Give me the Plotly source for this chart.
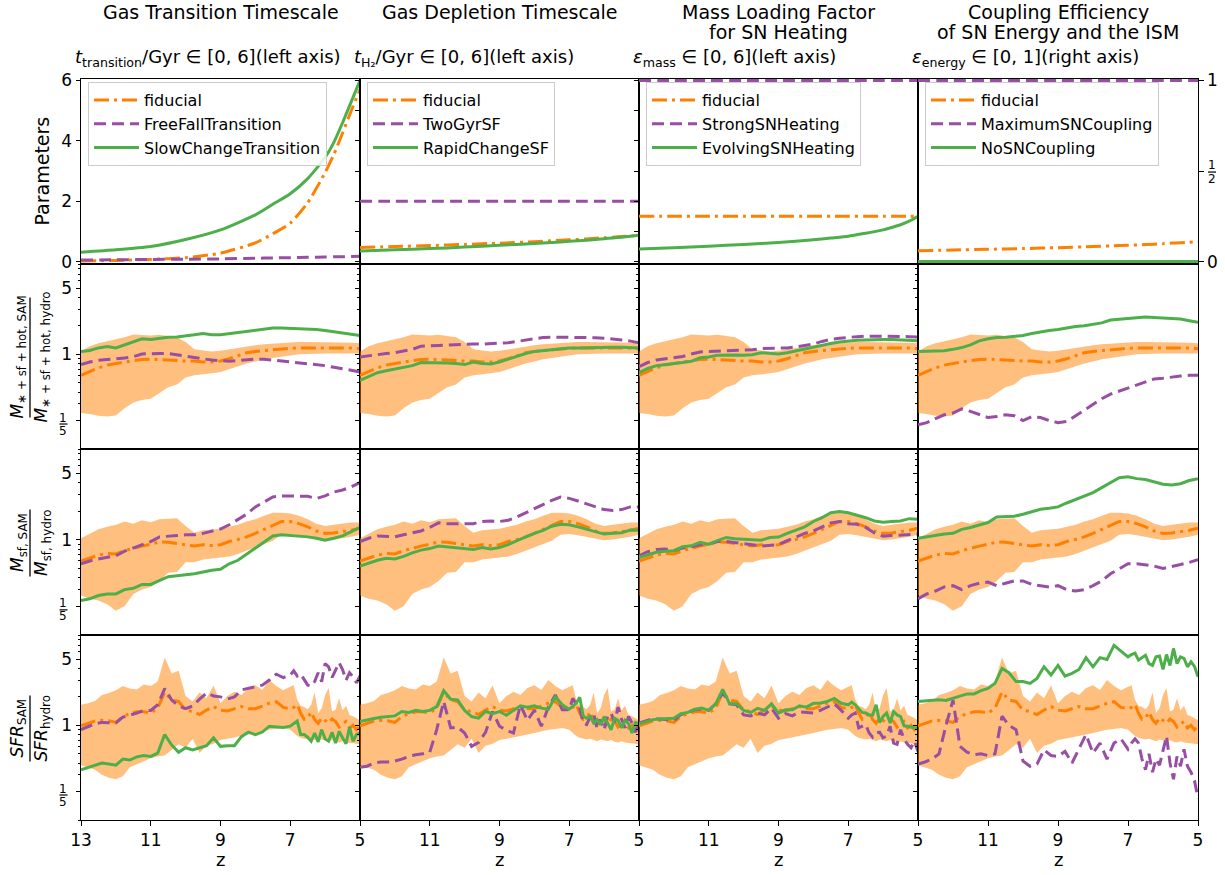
import math
import plotly.graph_objects as go

W, H = 1225, 875
COL_EDGES = [81, 360, 639, 918, 1198]
ROW_EDGES = [79, 264, 449, 635, 820]
LOG_RANGE = [-1.0, 0.955]
PARAM_RANGE = [-0.08, 6.05]

ORANGE = "#ff7f00"
PURPLE = "#984ea3"
GREEN = "#4daf4a"
BAND = "rgba(255,127,0,0.5)"
FID_DASH = "15px,5px,3px,5px"
ALT_DASH = "12px,6px"
LW = 3
FONT = "DejaVu Sans"
TICK_SIZE = 17

# ---------------- redshift grids ----------------
Z_PARAM = [13.0, 12.0, 11.0, 10.0, 9.0, 8.0, 7.5, 7.0, 6.5, 6.0, 5.75, 5.5, 5.25, 5.0]
Z_MASS = [13.0, 12.75, 12.5, 12.25, 12.0, 11.75, 11.5, 11.25, 11.0, 10.75, 10.5, 10.25,
          10.0, 9.75, 9.5, 9.25, 9.0, 8.75, 8.5, 8.25, 8.0, 7.75, 7.5, 7.25, 7.0, 6.75,
          6.5, 6.25, 6.0, 5.75, 5.5, 5.25, 5.0]
Z_SFR = [13.0, 12.8, 12.6, 12.4, 12.2, 12.0, 11.8, 11.6, 11.4, 11.2, 11.0, 10.8, 10.6,
         10.4, 10.2, 10.0, 9.8, 9.6, 9.4, 9.2, 9.0, 8.8, 8.6, 8.4, 8.2, 8.0, 7.8, 7.6,
         7.4, 7.2, 7.0, 6.9, 6.8, 6.7, 6.6, 6.5, 6.4, 6.3, 6.2, 6.1, 6.0, 5.9, 5.8, 5.7,
         5.6, 5.5, 5.4, 5.3, 5.2, 5.1, 5.0]

# ---------------- model parameters (top row) ----------------
T_TRANS_FIDUCIAL = [0.02, 0.04, 0.07, 0.13, 0.28, 0.62, 0.92, 1.27, 1.95, 2.95, 3.55, 4.26, 5.0, 5.7]
T_TRANS_FREEFALL = [0.05, 0.06, 0.07, 0.08, 0.09, 0.11, 0.12, 0.13, 0.14, 0.15, 0.16, 0.16, 0.17, 0.18]
T_TRANS_SLOW = [0.31, 0.39, 0.50, 0.73, 1.05, 1.55, 1.90, 2.25, 2.75, 3.45, 3.95, 4.6, 5.3, 6.0]

T_H2_FIDUCIAL = [0.47, 0.50, 0.53, 0.57, 0.61, 0.66, 0.69, 0.72, 0.75, 0.79, 0.81, 0.83, 0.85, 0.87]
T_H2_TWOGYR = [2.0, 2.0, 2.0, 2.0, 2.0, 2.0, 2.0, 2.0, 2.0, 2.0, 2.0, 2.0, 2.0, 2.0]
T_H2_RAPID = [0.35, 0.39, 0.43, 0.48, 0.54, 0.60, 0.635, 0.67, 0.71, 0.76, 0.785, 0.81, 0.84, 0.87]

EPS_MASS_FIDUCIAL = [1.5, 1.5, 1.5, 1.5, 1.5, 1.5, 1.5, 1.5, 1.5, 1.5, 1.5, 1.5, 1.5, 1.5]
EPS_MASS_STRONG = [6.0, 6.0, 6.0, 6.0, 6.0, 6.0, 6.0, 6.0, 6.0, 6.0, 6.0, 6.0, 6.0, 6.0]
EPS_MASS_EVOLVING = [0.42, 0.46, 0.51, 0.57, 0.63, 0.72, 0.78, 0.84, 0.94, 1.05, 1.13, 1.22, 1.34, 1.5]

EPS_ENERGY_FIDUCIAL = [0.060, 0.064, 0.068, 0.072, 0.077, 0.083, 0.087, 0.090, 0.094, 0.099,
                       0.102, 0.104, 0.107, 0.110]
EPS_ENERGY_MAX = [1.0, 1.0, 1.0, 1.0, 1.0, 1.0, 1.0, 1.0, 1.0, 1.0, 1.0, 1.0, 1.0, 1.0]
EPS_ENERGY_NONE = [0.0, 0.0, 0.0, 0.0, 0.0, 0.0, 0.0, 0.0, 0.0, 0.0, 0.0, 0.0, 0.0, 0.0]

# ---------------- M_{*+sf+hot} ratio ----------------
MTOT_FID = [0.60, 0.66, 0.72, 0.77, 0.80, 0.83, 0.86, 0.88, 0.89, 0.88, 0.865, 0.86, 0.85, 0.85,
            0.83, 0.83, 0.85, 0.90, 0.96, 1.04, 1.075, 1.10, 1.12, 1.14, 1.16, 1.17, 1.17, 1.17,
            1.18, 1.18, 1.17, 1.17, 1.15]
MTOT_HI = [1.075, 1.22, 1.31, 1.37, 1.44, 1.52, 1.62, 1.61, 1.58, 1.61, 1.56, 1.52, 1.35, 1.13,
           1.10, 1.075, 1.09, 1.13, 1.17, 1.21, 1.25, 1.28, 1.30, 1.33, 1.35, 1.35, 1.35, 1.35,
           1.35, 1.35, 1.34, 1.33, 1.31]
MTOT_LO = [0.24, 0.235, 0.224, 0.22, 0.226, 0.27, 0.31, 0.33, 0.34, 0.39, 0.45, 0.48, 0.57, 0.60,
           0.61, 0.63, 0.65, 0.70, 0.74, 0.80, 0.84, 0.89, 0.915, 0.945, 0.976, 1.0, 1.01, 1.02,
           1.02, 1.02, 1.02, 1.02, 1.02]
MTOT_FREEFALL = [0.78, 0.83, 0.865, 0.89, 0.90, 0.915, 0.945, 1.01, 1.02, 1.02, 1.02, 0.99, 0.945,
                 0.92, 0.90, 0.87, 0.86, 0.845, 0.86, 0.88, 0.89, 0.89, 0.87, 0.85, 0.84, 0.82,
                 0.80, 0.78, 0.76, 0.73, 0.71, 0.68, 0.65]
MTOT_SLOW = [1.075, 1.10, 1.17, 1.21, 1.17, 1.26, 1.35, 1.46, 1.44, 1.48, 1.52, 1.53, 1.56, 1.61,
             1.66, 1.61, 1.61, 1.66, 1.71, 1.76, 1.81, 1.86, 1.90, 1.90, 1.89, 1.87, 1.86, 1.83,
             1.79, 1.74, 1.70, 1.65, 1.58]
MTOT_TWOGYR = [0.94, 0.97, 0.99, 1.02, 1.04, 1.075, 1.13, 1.22, 1.24, 1.24, 1.25, 1.27, 1.29, 1.29,
               1.28, 1.29, 1.30, 1.33, 1.37, 1.42, 1.46, 1.51, 1.52, 1.52, 1.52, 1.51, 1.51, 1.50,
               1.48, 1.46, 1.42, 1.38, 1.33]
MTOT_RAPID = [0.53, 0.58, 0.64, 0.67, 0.70, 0.72, 0.76, 0.82, 0.82, 0.81, 0.81, 0.80, 0.78, 0.83,
              0.80, 0.79, 0.83, 0.89, 0.96, 1.02, 1.075, 1.10, 1.13, 1.15, 1.17, 1.17, 1.18, 1.19,
              1.19, 1.19, 1.19, 1.18, 1.17]
MTOT_STRONG = [0.74, 0.82, 0.87, 0.90, 0.92, 0.95, 1.01, 1.06, 1.075, 1.08, 1.09, 1.10, 1.10, 1.12,
               1.15, 1.15, 1.16, 1.17, 1.20, 1.24, 1.29, 1.37, 1.44, 1.48, 1.52, 1.54, 1.56, 1.56,
               1.56, 1.56, 1.56, 1.54, 1.53]
MTOT_EVOLVING = [0.64, 0.71, 0.76, 0.785, 0.80, 0.82, 0.845, 0.92, 0.94, 0.98, 0.99, 0.985, 0.98,
                 0.99, 1.04, 1.02, 1.01, 1.04, 1.09, 1.13, 1.18, 1.24, 1.30, 1.35, 1.39, 1.41,
                 1.42, 1.44, 1.44, 1.44, 1.42, 1.41, 1.39]
MTOT_MAXCOUP = [0.18, 0.19, 0.21, 0.23, 0.24, 0.265, 0.25, 0.23, 0.215, 0.22, 0.23, 0.225, 0.20,
                0.22, 0.215, 0.20, 0.19, 0.195, 0.225, 0.26, 0.30, 0.34, 0.38, 0.41, 0.44, 0.48,
                0.51, 0.55, 0.56, 0.58, 0.59, 0.60, 0.60]
MTOT_NOCOUP = [1.075, 1.075, 1.075, 1.09, 1.13, 1.18, 1.26, 1.39, 1.46, 1.51, 1.52, 1.54, 1.58,
               1.66, 1.74, 1.79, 1.83, 1.90, 1.97, 2.01, 2.08, 2.15, 2.31, 2.35, 2.40, 2.44, 2.48,
               2.46, 2.42, 2.40, 2.37, 2.27, 2.18]

# ---------------- M_sf ratio ----------------
MSF_FID = [0.60, 0.64, 0.69, 0.72, 0.71, 0.77, 0.82, 0.86, 0.90, 0.95, 0.945, 0.915, 0.88, 0.86,
           0.89, 0.87, 0.89, 0.96, 1.01, 1.075, 1.17, 1.28, 1.42, 1.56, 1.56, 1.48, 1.37, 1.24,
           1.17, 1.18, 1.22, 1.26, 1.33]
MSF_HI = [1.04, 1.15, 1.29, 1.37, 1.44, 1.56, 1.48, 1.61, 1.53, 1.65, 1.66, 1.69, 1.40, 1.19,
          1.26, 1.28, 1.31, 1.37, 1.44, 1.56, 1.65, 1.79, 1.93, 1.93, 1.89, 1.79, 1.65, 1.48,
          1.40, 1.44, 1.48, 1.52, 1.52]
MSF_LO = [0.26, 0.24, 0.23, 0.21, 0.18, 0.20, 0.27, 0.30, 0.32, 0.37, 0.45, 0.46, 0.58, 0.58,
          0.62, 0.64, 0.65, 0.67, 0.71, 0.77, 0.83, 0.90, 0.98, 1.13, 1.15, 1.12, 1.075, 1.02,
          0.99, 1.01, 1.04, 1.075, 1.13]
MSF_FREEFALL = [0.56, 0.60, 0.63, 0.65, 0.68, 0.76, 0.82, 0.89, 0.96, 1.075, 1.10, 1.11, 1.13,
                1.13, 1.17, 1.24, 1.30, 1.44, 1.65, 1.86, 2.22, 2.52, 2.82, 2.90, 2.90, 2.90,
                2.87, 2.72, 2.90, 3.18, 3.34, 3.6, 4.0]
MSF_SLOW = [0.23, 0.24, 0.26, 0.27, 0.27, 0.30, 0.31, 0.34, 0.34, 0.37, 0.41, 0.42, 0.43, 0.44,
            0.46, 0.48, 0.49, 0.56, 0.61, 0.71, 0.83, 0.96, 1.10, 1.13, 1.11, 1.10, 1.075, 1.04,
            0.99, 1.04, 1.10, 1.22, 1.35]
MSF_TWOGYR = [0.96, 1.04, 1.10, 1.09, 1.075, 1.13, 1.19, 1.24, 1.35, 1.51, 1.48, 1.48, 1.46, 1.48,
              1.56, 1.58, 1.56, 1.61, 1.74, 1.93, 2.15, 2.37, 2.60, 2.82, 2.73, 2.56, 2.40, 2.22,
              2.08, 2.04, 2.08, 2.22, 2.22]
MSF_RAPID = [0.53, 0.57, 0.61, 0.64, 0.63, 0.67, 0.73, 0.78, 0.81, 0.86, 0.845, 0.83, 0.81, 0.79,
             0.83, 0.80, 0.83, 0.89, 0.98, 1.075, 1.17, 1.26, 1.39, 1.46, 1.44, 1.37, 1.30, 1.22,
             1.15, 1.17, 1.19, 1.27, 1.26]
MSF_STRONG = [0.68, 0.75, 0.79, 0.80, 0.77, 0.82, 0.845, 0.89, 0.90, 0.96, 0.96, 0.94, 0.915,
              0.89, 0.86, 0.87, 0.89, 0.98, 1.075, 1.17, 1.24, 1.37, 1.51, 1.56, 1.48, 1.46,
              1.35, 1.18, 1.09, 1.11, 1.13, 1.15, 1.15]
MSF_EVOLVING = [0.65, 0.70, 0.74, 0.76, 0.77, 0.845, 0.865, 0.94, 0.90, 0.98, 1.06, 1.03, 1.02,
                1.01, 0.99, 1.06, 1.07, 1.17, 1.26, 1.37, 1.56, 1.71, 1.93, 1.98, 1.93, 1.83,
                1.71, 1.58, 1.53, 1.56, 1.58, 1.67, 1.65]
MSF_MAXCOUP = [0.24, 0.27, 0.29, 0.32, 0.33, 0.30, 0.33, 0.35, 0.36, 0.33, 0.35, 0.37, 0.37, 0.34,
               0.33, 0.32, 0.33, 0.30, 0.29, 0.30, 0.33, 0.37, 0.44, 0.50, 0.56, 0.56, 0.54, 0.53,
               0.50, 0.52, 0.55, 0.58, 0.62]
MSF_NOCOUP = [1.04, 1.075, 1.12, 1.15, 1.17, 1.29, 1.35, 1.44, 1.52, 1.74, 1.77, 1.77, 1.86, 1.98,
              2.10, 2.15, 2.22, 2.44, 2.64, 2.87, 3.14, 3.54, 4.03, 4.5, 4.6, 4.4, 4.3, 4.1, 3.84,
              3.78, 3.89, 4.2, 4.4]

# ---------------- SFR ratio ----------------
SFR_FID = [0.99, 1.04, 1.11, 1.13, 1.12, 1.075, 1.24, 1.33, 1.39, 1.39, 1.35, 1.52, 2.25, 1.85,
           1.79, 1.45, 1.40, 1.30, 1.45, 1.58, 1.45, 1.42, 1.50, 1.58, 1.50, 1.50, 1.60, 1.72,
           1.78, 1.55, 1.50, 1.55, 1.66, 1.35, 1.16, 1.20, 1.38, 1.15, 1.05, 1.20, 1.13, 1.06,
           1.17, 1.10, 0.96, 1.02, 1.10, 0.94, 1.00, 0.90, 0.98]
SFR_HI = [1.65, 1.71, 1.81, 2.10, 2.20, 2.35, 2.60, 2.45, 2.40, 2.70, 2.60, 2.90, 5.2, 3.54,
          3.78, 2.04, 1.79, 2.22, 1.93, 2.64, 1.71, 2.04, 2.26, 2.10, 2.48, 2.66, 2.37, 3.01,
          2.60, 2.35, 2.56, 2.66, 1.86, 1.61, 1.56, 1.48, 1.65, 2.22, 1.35, 1.52, 2.10, 2.48,
          1.40, 1.46, 1.93, 1.44, 1.61, 1.29, 1.25, 1.19, 1.13]
SFR_LO = [0.38, 0.36, 0.34, 0.30, 0.28, 0.27, 0.29, 0.36, 0.39, 0.42, 0.45, 0.47, 0.48, 0.55,
          0.63, 0.58, 0.72, 0.51, 0.61, 0.64, 0.70, 0.72, 0.75, 0.78, 0.80, 0.83, 0.86, 0.90,
          0.915, 0.94, 0.90, 0.83, 0.77, 0.74, 0.72, 0.71, 0.72, 0.70, 0.68, 0.71, 0.70, 0.68,
          0.70, 0.67, 0.66, 0.68, 0.66, 0.65, 0.64, 0.63, 0.63]
SFR_FREEFALL = [0.90, 0.96, 1.04, 1.075, 1.075, 1.06, 1.22, 1.28, 1.35, 1.44, 1.44, 1.65, 2.45,
                1.85, 1.6, 1.5, 1.6, 1.89, 2.2, 2.04, 2.0, 1.9, 2.0, 2.37, 2.46, 2.60, 2.66, 3.01,
                3.47, 3.2, 3.4, 3.78, 3.32, 3.48, 3.01, 2.66, 2.60, 2.90, 3.6, 2.90, 4.5, 4.16,
                3.21, 3.78, 4.6, 3.89, 3.01, 3.6, 3.27, 2.82, 3.32]
SFR_SLOW = [0.34, 0.36, 0.38, 0.40, 0.39, 0.38, 0.44, 0.43, 0.465, 0.48, 0.47, 0.51, 0.80, 0.62,
            0.52, 0.58, 0.55, 0.58, 0.61, 0.74, 0.60, 0.61, 0.61, 0.76, 0.85, 0.80, 0.85, 0.98,
            0.97, 0.95, 0.98, 1.05, 1.11, 0.80, 0.80, 0.75, 0.68, 0.83, 0.67, 0.90, 0.72, 0.68,
            0.845, 0.65, 0.865, 0.74, 0.64, 0.96, 0.68, 0.80, 0.83]
SFR_TWOGYR = [0.36, 0.37, 0.40, 0.41, 0.41, 0.42, 0.44, 0.47, 0.49, 0.50, 0.52, 0.90, 1.79, 0.94,
              0.96, 0.83, 0.60, 0.66, 0.845, 1.40, 0.98, 0.89, 0.83, 1.65, 1.13, 1.44, 0.98, 1.56,
              2.10, 1.46, 1.46, 1.93, 1.69, 1.52, 1.06, 1.02, 1.24, 1.35, 0.915, 1.15, 0.90, 1.24,
              1.35, 1.075, 1.56, 1.17, 0.94, 1.24, 1.06, 0.845, 1.06]
SFR_RAPID = [1.10, 1.15, 1.18, 1.22, 1.24, 1.26, 1.40, 1.37, 1.44, 1.40, 1.44, 1.58, 2.33, 1.89,
             1.86, 1.44, 1.24, 1.19, 1.40, 1.33, 1.40, 1.28, 1.44, 1.61, 1.56, 1.61, 1.52, 1.48,
             2.01, 1.65, 1.48, 1.61, 1.71, 1.98, 1.26, 1.19, 1.24, 1.06, 1.15, 1.02, 1.24, 1.06,
             0.90, 1.19, 1.13, 0.94, 1.13, 1.04, 0.83, 1.075, 1.04]
SFR_STRONG = [1.06, 1.11, 1.18, 1.17, 1.15, 1.13, 1.30, 1.37, 1.46, 1.48, 1.44, 1.69, 2.22, 1.69,
              1.65, 1.29, 1.26, 1.35, 1.29, 1.52, 1.19, 1.33, 1.26, 1.39, 1.37, 1.35, 1.44, 1.56,
              1.69, 1.44, 1.19, 1.29, 1.35, 0.94, 0.98, 1.02, 0.83, 0.75, 0.83, 0.845, 0.74, 0.77,
              0.98, 0.65, 0.63, 0.90, 0.72, 0.63, 0.58, 0.68, 0.53]
SFR_EVOLVING = [1.04, 1.09, 1.15, 1.17, 1.17, 1.19, 1.33, 1.37, 1.48, 1.52, 1.44, 1.69, 2.40,
                1.69, 1.69, 1.44, 1.37, 1.51, 1.44, 1.69, 1.35, 1.46, 1.46, 1.61, 1.56, 1.71,
                1.71, 1.79, 1.93, 1.71, 1.65, 1.76, 1.65, 1.52, 1.37, 1.35, 1.29, 1.29, 1.65,
                1.075, 1.24, 1.35, 1.06, 1.40, 1.29, 1.24, 0.99, 0.98, 0.96, 0.94, 0.94]
SFR_MAXCOUP = [0.39, 0.41, 0.44, 0.50, 1.0, 1.85, 0.6, 0.52, 0.49, 0.50, 0.48, 0.50, 1.25, 1.0,
               0.9, 0.42, 0.37, 0.39, 0.55, 0.48, 0.47, 0.53, 0.40, 0.56, 0.80, 0.51, 0.65, 0.44,
               0.65, 0.72, 0.56, 0.65, 0.72, 0.65, 0.44, 0.34, 0.50, 0.32, 0.44, 0.38, 0.53, 0.77,
               0.40, 0.27, 0.47, 0.37, 0.56, 0.37, 0.32, 0.26, 0.17]
SFR_NOCOUP = [1.79, 1.81, 1.86, 1.86, 1.83, 1.93, 2.04, 2.15, 2.15, 2.33, 2.46, 2.78, 4.0, 3.6,
              2.90, 2.90, 2.78, 3.14, 4.16, 3.40, 4.3, 3.32, 3.54, 3.9, 5.2, 4.16, 5.2, 4.97, 7.0,
              6.1, 5.3, 5.6, 5.8, 4.9, 5.2, 5.5, 4.5, 4.3, 5.3, 5.4, 3.9, 5.6, 4.3, 6.5, 4.5, 5.3,
              5.1, 4.16, 4.7, 4.2, 3.27]

# ---------------- text ----------------
COLUMN_TITLES = [["Gas Transition Timescale"], ["Gas Depletion Timescale"],
                 ["Mass Loading Factor", "for SN Heating"],
                 ["Coupling Efficiency", "of SN Energy and the ISM"]]
PARAM_LABELS = ["<i>t</i><sub>transition</sub>/Gyr ∈ [0, 6](left axis)",
                "<i>t</i><sub>H₂</sub>/Gyr ∈ [0, 6](left axis)",
                "<i>ε</i><sub>mass</sub> ∈ [0, 6](left axis)",
                "<i>ε</i><sub>energy</sub> ∈ [0, 1](right axis)"]
MODEL_NAMES = [("FreeFallTransition", "SlowChangeTransition"),
               ("TwoGyrSF", "RapidChangeSF"),
               ("StrongSNHeating", "EvolvingSNHeating"),
               ("MaximumSNCoupling", "NoSNCoupling")]
RATIO_LABELS = [("<i>M</i><sub>∗ + sf + hot, SAM</sub>", "<i>M</i><sub>∗ + sf + hot, hydro</sub>", 120),
                ("<i>M</i><sub>sf, SAM</sub>", "<i>M</i><sub>sf, hydro</sub>", 67),
                ("<i>SFR</i><sub>SAM</sub>", "<i>SFR</i><sub>hydro</sub>", 66)]

PARAM_SERIES = [(T_TRANS_FIDUCIAL, T_TRANS_FREEFALL, T_TRANS_SLOW),
                (T_H2_FIDUCIAL, T_H2_TWOGYR, T_H2_RAPID),
                (EPS_MASS_FIDUCIAL, EPS_MASS_STRONG, EPS_MASS_EVOLVING),
                (EPS_ENERGY_FIDUCIAL, EPS_ENERGY_MAX, EPS_ENERGY_NONE)]
RATIO_ROWS = [
    (Z_MASS, MTOT_FID, MTOT_LO, MTOT_HI,
     [(MTOT_FREEFALL, MTOT_SLOW), (MTOT_TWOGYR, MTOT_RAPID),
      (MTOT_STRONG, MTOT_EVOLVING), (MTOT_MAXCOUP, MTOT_NOCOUP)]),
    (Z_MASS, MSF_FID, MSF_LO, MSF_HI,
     [(MSF_FREEFALL, MSF_SLOW), (MSF_TWOGYR, MSF_RAPID),
      (MSF_STRONG, MSF_EVOLVING), (MSF_MAXCOUP, MSF_NOCOUP)]),
    (Z_SFR, SFR_FID, SFR_LO, SFR_HI,
     [(SFR_FREEFALL, SFR_SLOW), (SFR_TWOGYR, SFR_RAPID),
      (SFR_STRONG, SFR_EVOLVING), (SFR_MAXCOUP, SFR_NOCOUP)]),
]


def px_x(x):
    return x / W


def px_y(y):
    return 1 - y / H


def ids(r, c):
    k = r * 4 + c + 1
    return ("x" if k == 1 else f"x{k}"), ("y" if k == 1 else f"y{k}")


def log_row_px(r, v):
    top, bot = ROW_EDGES[r], ROW_EDGES[r + 1]
    frac = (math.log10(v) - LOG_RANGE[0]) / (LOG_RANGE[1] - LOG_RANGE[0])
    return bot - frac * (bot - top)


fig = go.Figure()

# top row: parameter evolution with one legend per panel
for c in range(4):
    xr, yr = ids(0, c)
    leg = "legend" if c == 0 else f"legend{c + 1}"
    fid, alt_a, alt_b = PARAM_SERIES[c]
    for vals, name, color, dash in [(fid, "fiducial", ORANGE, FID_DASH),
                                    (alt_a, MODEL_NAMES[c][0], PURPLE, ALT_DASH),
                                    (alt_b, MODEL_NAMES[c][1], GREEN, "solid")]:
        fig.add_trace(go.Scatter(
            x=Z_PARAM, y=vals, mode="lines", name=name, legend=leg,
            line=dict(color=color, width=LW, dash=dash, shape="spline", smoothing=0.6),
            xaxis=xr, yaxis=yr, hoverinfo="skip"))

# ratio rows: fiducial band, fiducial line and the two variants
for r, (zs, fid, lo, hi, alts) in enumerate(RATIO_ROWS, start=1):
    for c in range(4):
        xr, yr = ids(r, c)
        fig.add_trace(go.Scatter(x=zs, y=lo, mode="lines", line=dict(width=0, color=BAND),
                                 showlegend=False, xaxis=xr, yaxis=yr, hoverinfo="skip"))
        fig.add_trace(go.Scatter(x=zs, y=hi, mode="lines", line=dict(width=0, color=BAND),
                                 fill="tonexty", fillcolor=BAND, showlegend=False,
                                 xaxis=xr, yaxis=yr, hoverinfo="skip"))
        fig.add_trace(go.Scatter(x=zs, y=fid, mode="lines", showlegend=False,
                                 line=dict(color=ORANGE, width=LW, dash=FID_DASH),
                                 xaxis=xr, yaxis=yr, hoverinfo="skip"))
        fig.add_trace(go.Scatter(x=zs, y=alts[c][0], mode="lines", showlegend=False,
                                 line=dict(color=PURPLE, width=LW, dash=ALT_DASH),
                                 xaxis=xr, yaxis=yr, hoverinfo="skip"))
        fig.add_trace(go.Scatter(x=zs, y=alts[c][1], mode="lines", showlegend=False,
                                 line=dict(color=GREEN, width=LW),
                                 xaxis=xr, yaxis=yr, hoverinfo="skip"))

layout = dict(
    width=W, height=H, margin=dict(l=0, r=0, t=0, b=0), template="none",
    paper_bgcolor="white", plot_bgcolor="white",
    font=dict(family=FONT, size=16, color="black"),
)

MINOR_LOG = [0.1, 0.3, 0.4, 0.5, 0.6, 0.7, 0.8, 0.9, 2, 3, 4, 6, 7, 8, 9]
frame = dict(showgrid=False, zeroline=False, showline=True, mirror=True,
             linecolor="black", linewidth=1, automargin=False)

for r in range(4):
    for c in range(4):
        k = r * 4 + c + 1
        xname = "xaxis" if k == 1 else f"xaxis{k}"
        yname = "yaxis" if k == 1 else f"yaxis{k}"
        xr, yr = ids(r, c)
        xa = dict(frame, domain=[px_x(COL_EDGES[c]), px_x(COL_EDGES[c + 1])],
                  anchor=yr, range=[13, 5])
        if r == 3:
            xa.update(ticks="outside", ticklen=4.5, tickwidth=1, tickcolor="black",
                      tickvals=[13, 11, 9, 7, 5],
                      ticktext=(["13", "11", "9", "7", "5"] if c == 0 else ["", "11", "9", "7", "5"]),
                      tickfont=dict(size=TICK_SIZE))
        else:
            xa.update(ticks="", showticklabels=False)
        layout[xname] = xa

        ya = dict(frame, domain=[px_y(ROW_EDGES[r + 1]), px_y(ROW_EDGES[r])], anchor=xr,
                  ticks="outside", ticklen=4.5, tickwidth=1, tickcolor="black",
                  tickfont=dict(size=TICK_SIZE))
        if r == 0:
            if c == 3:
                ya.update(side="right", range=[PARAM_RANGE[0] / 6, PARAM_RANGE[1] / 6],
                          tickvals=[0, 0.5, 1], ticktext=["0", "", "1"])
            elif c == 0:
                ya.update(range=PARAM_RANGE, tickvals=[0, 2, 4, 6])
            else:
                ya.update(range=PARAM_RANGE, tickvals=[0, 1, 2, 3, 4, 5, 6], showticklabels=False)
        else:
            ya.update(type="log", range=LOG_RANGE, tickvals=[0.2, 1, 5],
                      ticktext=["", "1", "5"], showticklabels=(c == 0),
                      minor=dict(tickvals=MINOR_LOG, ticks="outside", ticklen=2.5,
                                 tickwidth=1, tickcolor="black"))
        layout[yname] = ya

# legends in the top row
for c in range(4):
    name = "legend" if c == 0 else f"legend{c + 1}"
    layout[name] = dict(x=px_x(COL_EDGES[c] + 7), y=px_y(82), xanchor="left", yanchor="top",
                        bgcolor="rgba(255,255,255,0.85)", bordercolor="#cccccc", borderwidth=1,
                        font=dict(family=FONT, size=16), itemwidth=45, tracegroupgap=0,
                        traceorder="normal")

annotations = []
shapes = []

for c in range(4):
    mid = (COL_EDGES[c] + COL_EDGES[c + 1]) / 2
    for j, line in enumerate(COLUMN_TITLES[c]):
        annotations.append(dict(text=line, x=px_x(mid), y=px_y(12 + 20 * j), xref="paper",
                                yref="paper", xanchor="center", yanchor="middle",
                                showarrow=False, font=dict(size=19)))
    annotations.append(dict(text=PARAM_LABELS[c], x=px_x(COL_EDGES[c] - 8), y=px_y(58),
                            xref="paper", yref="paper", xanchor="left", yanchor="middle",
                            showarrow=False, font=dict(size=18)))
    annotations.append(dict(text="z", x=px_x(mid), y=px_y(859), xref="paper", yref="paper",
                            xanchor="center", yanchor="middle", showarrow=False,
                            font=dict(size=18)))

annotations.append(dict(text="Parameters", x=px_x(41.5), y=px_y(171), xref="paper",
                        yref="paper", xanchor="center", yanchor="middle", textangle=-90,
                        showarrow=False, font=dict(size=19)))

# stacked-fraction y labels for the ratio rows
for i, (num, den, bar_len) in enumerate(RATIO_LABELS):
    r = i + 1
    yc = (ROW_EDGES[r] + ROW_EDGES[r + 1]) / 2 + 1
    annotations.append(dict(text=num, x=px_x(18), y=px_y(yc), xref="paper", yref="paper",
                            xanchor="center", yanchor="middle", textangle=-90,
                            showarrow=False, font=dict(size=17)))
    annotations.append(dict(text=den, x=px_x(42), y=px_y(yc), xref="paper", yref="paper",
                            xanchor="center", yanchor="middle", textangle=-90,
                            showarrow=False, font=dict(size=17)))
    shapes.append(dict(type="line", xref="paper", yref="paper", x0=px_x(30), x1=px_x(30),
                       y0=px_y(yc - bar_len / 2), y1=px_y(yc + bar_len / 2),
                       line=dict(color="black", width=1.3)))

    # the 1/5 tick label drawn as a small stacked fraction
    ty = log_row_px(r, 0.2)
    annotations.append(dict(text="1", x=px_x(63.5), y=px_y(ty - 3), xref="paper", yref="paper",
                            xanchor="center", yanchor="middle", showarrow=False,
                            font=dict(size=12)))
    annotations.append(dict(text="5", x=px_x(63.5), y=px_y(ty + 10), xref="paper", yref="paper",
                            xanchor="center", yanchor="middle", showarrow=False,
                            font=dict(size=12)))
    shapes.append(dict(type="line", xref="paper", yref="paper", x0=px_x(59.5), x1=px_x(67.5),
                       y0=px_y(ty + 3.5), y1=px_y(ty + 3.5),
                       line=dict(color="black", width=1.2)))

# the 1/2 tick label on the right-hand axis of the coupling panel
top0, bot0 = ROW_EDGES[0], ROW_EDGES[1]
half_px = bot0 - (0.5 * 6 - PARAM_RANGE[0]) / (PARAM_RANGE[1] - PARAM_RANGE[0]) * (bot0 - top0)
annotations.append(dict(text="1", x=px_x(1212), y=px_y(half_px - 6), xref="paper", yref="paper",
                        xanchor="center", yanchor="middle", showarrow=False, font=dict(size=12)))
annotations.append(dict(text="2", x=px_x(1212), y=px_y(half_px + 8), xref="paper", yref="paper",
                        xanchor="center", yanchor="middle", showarrow=False, font=dict(size=12)))
shapes.append(dict(type="line", xref="paper", yref="paper", x0=px_x(1208), x1=px_x(1216),
                   y0=px_y(half_px + 1), y1=px_y(half_px + 1),
                   line=dict(color="black", width=1.2)))

layout["annotations"] = annotations
layout["shapes"] = shapes
fig.update_layout(**layout)

fig.write_html("out.html")
